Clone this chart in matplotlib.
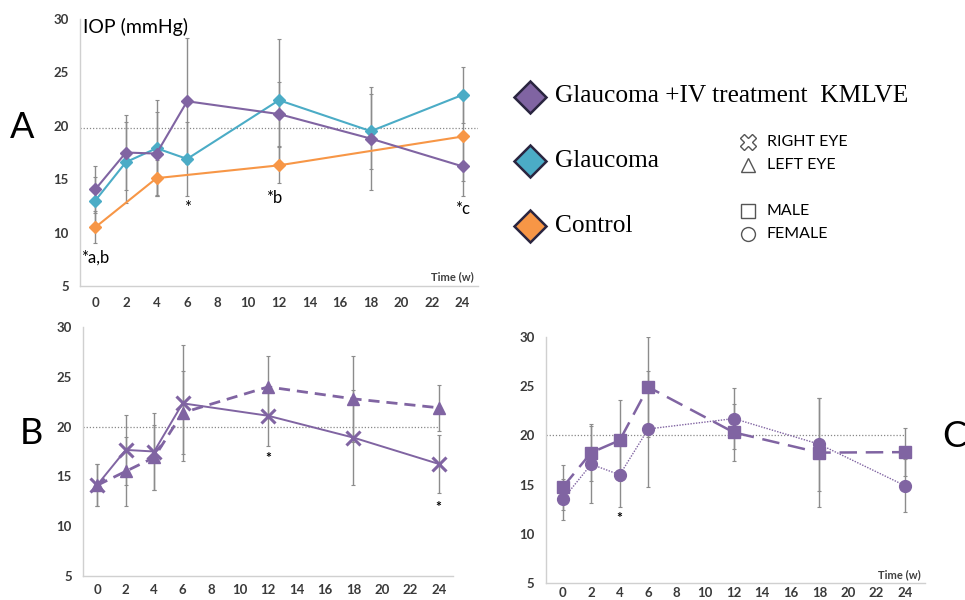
import numpy as np
import matplotlib.pyplot as plt

plt.rcParams['font.family'] = ['Lato', 'DejaVu Sans']

weeks = [0, 2, 4, 6, 12, 18, 24]
control_weeks = [0, 4, 12, 24]

# A: IOP per group (mean, SD)
treated = [14.05, 17.5, 17.4, 22.3, 21.1, 18.8, 16.2]
treated_sd = [2.2, 3.5, 3.9, 5.9, 3.0, 4.8, 2.8]
glaucoma = [13.0, 16.6, 17.9, 16.9, 22.4, 19.5, 22.9]
glaucoma_sd = [2.2, 3.8, 4.5, 3.5, 5.7, 3.5, 2.6]
control = [10.5, 15.1, 16.3, 19.0]
control_sd = [1.5, 1.7, 1.7, 4.2]

# B: treated group split by eye
right_eye = [14.13, 17.66, 17.5, 22.35, 21.1, 18.9, 16.25]
right_sd = [2.15, 3.5, 3.9, 5.85, 3.0, 4.8, 2.9]
left_eye = [14.1, 15.5, 16.9, 21.4, 24.0, 22.8, 21.9]
left_sd = [2.1, 3.5, 3.3, 4.2, 3.1, 4.3, 2.3]

# C: treated group split by sex
male = [14.74, 18.25, 19.5, 24.9, 20.3, 18.25, 18.3]
male_sd = [2.3, 2.9, 4.1, 5.1, 2.9, 5.5, 2.4]
female = [13.5, 17.07, 16.0, 20.65, 21.7, 19.1, 14.9]
female_sd = [2.1, 3.9, 3.3, 5.85, 3.1, 4.7, 2.7]

threshold = 20

purple = '#8064a2'
cyan = '#4bacc6'
orange = '#f79646'
bar_grey = '#8c8c8c'

fig = plt.figure(figsize=(9.65, 6.0), dpi=100)


def style_axes(ax, xlim, xpad=8):
    ax.set_xlim(*xlim)
    ax.set_ylim(5, 30)
    ax.set_xticks(range(0, 25, 2))
    ax.set_yticks(range(5, 31, 5))
    for s in ['top', 'right']:
        ax.spines[s].set_visible(False)
    for s in ['left', 'bottom']:
        ax.spines[s].set_color('#d0d0d0')
        ax.spines[s].set_linewidth(1)
    ax.tick_params(length=0, labelsize=9.5, labelcolor='#3a3a3a', pad=8)
    ax.tick_params(axis='x', pad=xpad)
    for lab in ax.get_xticklabels() + ax.get_yticklabels():
        lab.set_fontweight('bold')
    ax.patch.set_alpha(0)


def err(ax, x, y, sd):
    ax.errorbar(x, y, yerr=sd, fmt='none', ecolor=bar_grey, elinewidth=1,
                capsize=1.5, capthick=0.8, zorder=1)


# ---- panel A
axA = fig.add_axes([0.0829, 0.5233, 0.4124, 0.445])
style_axes(axA, (-1.0, 25.0))
axA.axhline(threshold - 0.2, color='#888888', lw=0.9, ls=(0, (1, 1.5)), zorder=0)
err(axA, weeks, treated, treated_sd)
err(axA, weeks, glaucoma, glaucoma_sd)
err(axA, control_weeks, control, control_sd)
axA.plot(control_weeks, control, color=orange, lw=1.5, marker='D', ms=6.5, mec=orange, zorder=3)
axA.plot(weeks, glaucoma, color=cyan, lw=1.5, marker='D', ms=6.5, mec=cyan, zorder=4)
axA.plot(weeks, treated, color=purple, lw=1.5, marker='D', ms=6.5, mec=purple, zorder=5)
axA.text(0.008, 0.97, 'IOP (mmHg)', transform=axA.transAxes, fontsize=14, va='center', ha='left')
axA.text(0.99, 0.035, 'Time (w)', transform=axA.transAxes, fontsize=8, fontweight='bold',
         color='#404040', ha='right', va='center')
axA.text(0.0, 7.7, '*a,b', fontsize=12, ha='center', va='center')
axA.text(6, 12.3, '*', fontsize=12, ha='center', va='center')
axA.text(11.7, 13.2, '*b', fontsize=12, ha='center', va='center')
axA.text(24.0, 12.2, '*c', fontsize=12, ha='center', va='center')

# ---- panel B
axB = fig.add_axes([0.086, 0.0405, 0.3834, 0.414])
style_axes(axB, (-1.0, 25.0), xpad=6)
axB.plot([-1, 24], [threshold, threshold], color='#888888', lw=0.9, ls=(0, (1, 1.5)), zorder=0)
err(axB, weeks, right_eye, right_sd)
err(axB, weeks, left_eye, left_sd)
axB.plot(weeks, left_eye, color=purple, lw=2, ls=(0, (4, 2.5)), marker='^', ms=9, zorder=3)
axB.plot(weeks, right_eye, color=purple, lw=1.4, marker='x', ms=10, mew=2.2, zorder=4)
axB.text(12, 16.8, '*', fontsize=10, fontweight='bold', ha='center', va='center')
axB.text(24, 11.95, '*', fontsize=10, fontweight='bold', ha='center', va='center')

# ---- panel C
axC = fig.add_axes([0.5655, 0.0278, 0.393, 0.411])
style_axes(axC, (-1.19, 25.4), xpad=3)
axC.plot([-1.19, 24], [threshold, threshold], color='#888888', lw=0.9, ls=(0, (1, 1.5)), zorder=0)
err(axC, weeks, male, male_sd)
err(axC, weeks, female, female_sd)
axC.plot(weeks, female, color=purple, lw=1, ls=(0, (1, 1)), marker='o', ms=8.5, zorder=3)
axC.plot(weeks, male, color=purple, lw=1.8, ls=(0, (7, 3.5)), marker='s', ms=8.5, zorder=4)
axC.text(4, 11.6, '*', fontsize=10, fontweight='bold', ha='center', va='center')
axC.text(0.99, 0.035, 'Time (w)', transform=axC.transAxes, fontsize=8, fontweight='bold',
         color='#404040', ha='right', va='center')

# panel letters
fig.text(0.0228, 0.787, 'A', fontsize=26, ha='center', va='center')
fig.text(0.032, 0.277, 'B', fontsize=26, ha='center', va='center')
fig.text(0.989, 0.272, 'C', fontsize=26, ha='center', va='center')

# ---- key, laid out in pixel space
lay = fig.add_axes([0, 0, 1, 1])
lay.set_xlim(0, 965)
lay.set_ylim(600, 0)
lay.axis('off')

groups = ['Glaucoma +IV treatment  KMLVE', 'Glaucoma', 'Control']
group_colors = [purple, cyan, orange]
for i, (name, col) in enumerate(zip(groups, group_colors)):
    yy = 96.5 + i * 64.5
    lay.plot(530, yy, marker='D', ms=16.5, mfc=col, mec='#2a2540', mew=1.8, clip_on=False)
    lay.text(555, yy, name, family='Liberation Serif', fontsize=18.3, va='center', ha='left')

keys = [('RIGHT EYE', 'X', 141.5), ('LEFT EYE', '^', 165), ('MALE', 's', 211), ('FEMALE', 'o', 234)]
for label, mk, yy in keys:
    size = {'X': 11, '^': 10, 's': 9.5, 'o': 10}[mk]
    lay.plot(748, yy, marker=mk, ms=size, mfc='white', mec='#555555', mew=1, clip_on=False)
    lay.text(767, yy, label, fontsize=11.5, va='center', ha='left')

fig.savefig('out.png', dpi=100)
